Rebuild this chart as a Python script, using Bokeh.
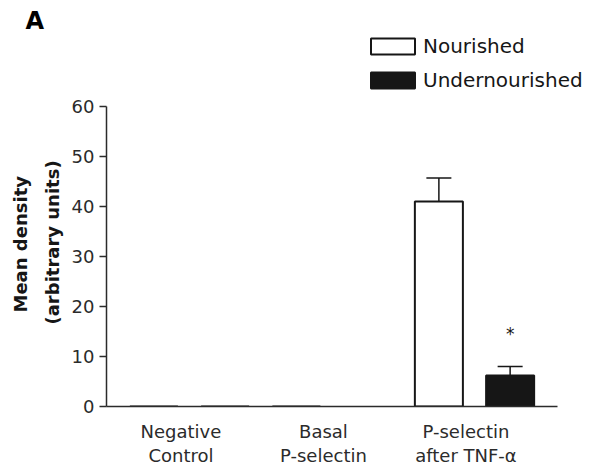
from bokeh.plotting import figure
from bokeh.models import (Range1d, ColumnDataSource, Whisker, TeeHead, Title,
                          Legend, LegendItem, FixedTicker, LinearAxis)
from bokeh.embed import file_html
from bokeh.resources import INLINE
from bokeh.core.properties import value

# ---- data ----
categories = ["Negative Control", "Basal P-selectin", "P-selectin after TNF-α"]
label_line1 = ["Negative", "Basal", "P-selectin"]
label_line2 = ["Control", "P-selectin", "after TNF-α"]
series = ["Nourished", "Undernourished"]
nourished = [0.0, 0.0, 41.0]
nourished_sem = [0.0, 0.0, 4.7]
undernourished = [0.0, float("nan"), 6.2]
undernourished_sem = [0.0, 0.0, 1.8]
significance = ["", "", "*"]
significance_y = [0.0, 0.0, 15.3]
y_ticks = [0, 10, 20, 30, 40, 50, 60]

FONT = "DejaVu Sans"
INK = "#161616"
GREY = "#2b2b2b"

# ---- layout ----
W, H = 595, 468
TOP, BOTTOM, LEFT, RIGHT = 34, 62, 106, 0
frame_w = W - LEFT - RIGHT
frame_h = H - TOP - BOTTOM
PX_GROUP = 142.5          # pixels per category
AXIS_PAD = 0.5825         # axis line extends this far beyond outer group centres
OFF, BW = 0.25, 0.337     # bar offset from group centre and bar width (category units)
LABEL_SHIFT = -0.06

y_max = max(y_ticks)
y_top = y_max * frame_h / 300.0
x_start = -AXIS_PAD
x_end = x_start + frame_w / PX_GROUP

p = figure(x_range=Range1d(x_start, x_end), y_range=Range1d(0, y_top), width=W, height=H,
           output_backend="svg", toolbar_location=None,
           min_border_left=LEFT, min_border_right=RIGHT, min_border_top=TOP,
           min_border_bottom=BOTTOM)
p.outline_line_color = None
p.xgrid.visible = False
p.ygrid.visible = False

gidx = list(range(len(categories)))
src = ColumnDataSource(dict(
    xn=[g - OFF for g in gidx], xu=[g + OFF for g in gidx],
    nour=nourished, under=undernourished))

r_n = p.vbar(x="xn", top="nour", width=BW, source=src,
             fill_color="white", line_color=INK, line_width=2)
r_u = p.vbar(x="xu", top="under", width=BW, source=src,
             fill_color=INK, line_color=INK, line_width=2)

# error bars (upper only) where SEM > 0
for vals, sems, off in [(nourished, nourished_sem, -OFF), (undernourished, undernourished_sem, OFF)]:
    keep = [i for i, e in enumerate(sems) if e > 0]
    ws = ColumnDataSource(dict(x=[gidx[i] + off for i in keep],
                               lower=[vals[i] for i in keep],
                               upper=[vals[i] + sems[i] for i in keep]))
    p.add_layout(Whisker(base="x", lower="lower", upper="upper", source=ws,
                         dimension="height", line_color=INK, line_width=1.5,
                         upper_head=TeeHead(size=25, line_color=INK, line_width=1.5),
                         lower_head=None))

# significance mark
keep = [i for i, s in enumerate(significance) if s]
ssrc = ColumnDataSource(dict(x=[gidx[i] + OFF for i in keep],
                             y=[significance_y[i] for i in keep],
                             t=[significance[i] for i in keep]))
p.text(x="x", y="y", text="t", source=ssrc, text_font=value(FONT), text_font_size="17px",
       text_align="center", text_baseline="middle", text_color=INK, y_offset=4)

# ---- y axis ----
yax = p.yaxis[0]
yax.bounds = (0, y_max)
yax.ticker = FixedTicker(ticks=y_ticks)
yax.minor_tick_line_color = None
yax.major_tick_out = 7
yax.major_tick_in = 0
yax.major_tick_line_color = GREY
yax.major_tick_line_width = 1.5
yax.axis_line_color = GREY
yax.axis_line_width = 1.5
yax.major_label_text_font = FONT
yax.major_label_text_font_size = "18px"
yax.major_label_text_color = GREY
yax.major_label_standoff = 5

# y axis title: two lines, placed along the 0-60 span
for txt, stand, off in [("(arbitrary units)", 12, 82), ("Mean density", 5, 94)]:
    p.add_layout(Title(text=txt, align="left", offset=off, standoff=stand,
                       text_font=FONT, text_font_style="bold", text_font_size="18px",
                       text_color=INK), "left")

# ---- x axis (two label rows) ----
tick_pos = [g + LABEL_SHIFT for g in gidx]
x_bounds = (-AXIS_PAD, gidx[-1] + AXIS_PAD)

xax = p.xaxis[0]
xax.bounds = x_bounds
xax.ticker = FixedTicker(ticks=tick_pos)
xax.major_label_overrides = dict(zip(tick_pos, label_line1))
xax.axis_line_color = GREY
xax.axis_line_width = 1.5
xax.major_tick_line_color = None
xax.major_tick_out = 0
xax.major_tick_in = 0
xax.minor_tick_line_color = None
xax.major_label_text_font = FONT
xax.major_label_text_font_size = "18px"
xax.major_label_text_color = GREY
xax.major_label_standoff = 14

xax2 = LinearAxis(ticker=FixedTicker(ticks=tick_pos),
                  major_label_overrides=dict(zip(tick_pos, label_line2)),
                  axis_line_color=None, major_tick_line_color=None, major_tick_out=0,
                  major_tick_in=0, minor_tick_line_color=None,
                  major_label_text_font=FONT, major_label_text_font_size="18px",
                  major_label_text_color=GREY, major_label_standoff=0)
p.add_layout(xax2, "below")

# ---- panel letter ----
p.title.text = "A"
p.title.align = "left"
p.title.offset = -81
p.title.standoff = 0
p.title.text_font = FONT
p.title.text_font_style = "bold"
p.title.text_font_size = "24px"
p.title.text_color = "black"

# legend swatches are drawn inset by 10% of the glyph box
legend = Legend(items=[LegendItem(label=series[0], renderers=[r_n]),
                       LegendItem(label=series[1], renderers=[r_u])],
                location=(259, 314), glyph_width=55, glyph_height=20, label_height=24,
                label_text_font=FONT, label_text_font_size="20px", label_text_color=INK,
                label_standoff=3, spacing=10, padding=0, margin=0,
                border_line_color=None, background_fill_alpha=0)
p.add_layout(legend)

open("out.html", "w").write(file_html(p, INLINE))
